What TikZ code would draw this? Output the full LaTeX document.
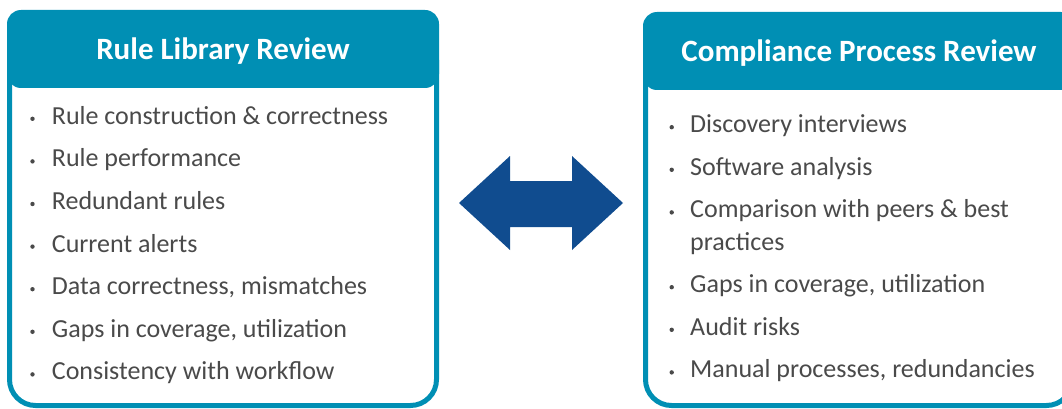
\documentclass[tikz,border=0pt]{standalone}
\usepackage{fontspec}
\setmainfont{Carlito}
\definecolor{hdteal}{RGB}{0,143,180}
\definecolor{txtgray}{RGB}{74,74,74}
\definecolor{arrowblue}{RGB}{16,76,143}

\begin{document}
\begin{tikzpicture}[x=1pt, y=-1pt,
		frame/.style={draw=hdteal, line width=5pt, fill=white, rounded corners=26pt},
		head/.style={fill=hdteal, rounded corners=14pt, minimum width=432pt, minimum height=78pt, text height=22pt, text depth=0pt, text=white, font=\bfseries\fontsize{31}{37}\selectfont},
		item/.style={anchor=base west, inner sep=0pt, align=left, text=txtgray, font=\fontsize{26}{32.7}\selectfont}]
			\path[use as bounding box, clip] (0,0) rectangle (1062,409);
			\draw[frame] (9.5,60) -- (9.5,405.5) -- (436.5,405.5) -- (436.5,60);
			\node (libhead) at (223,49) [head] {Rule Library Review};
			\node (l1) at (51.7,124.3) [item] {Rule construction \& correctness};
			\node (l2) at (51.7,166.9) [item] {Rule performance};
			\node (l3) at (51.7,209.5) [item] {Redundant rules};
			\node (l4) at (51.7,252.1) [item] {Current alerts};
			\node (l5) at (51.7,294.7) [item] {Data correctness, mismatches};
			\node (l6) at (51.7,337.3) [item] {Gaps in coverage, utilization};
			\node (l7) at (51.7,379.9) [item] {Consistency with workflow};
			\foreach \y in {124.3,166.9,209.5,252.1,294.7,337.3,379.9}
				\fill[txtgray] (32.5,\y-5.5) circle (2.2);
			\draw[frame] (645.5,60) -- (645.5,405.5) -- (1072.5,405.5) -- (1072.5,60);
			\node (prochead) at (859,51) [head] {Compliance Process Review};
			\node (r1) at (690,132.7) [item] {Discovery interviews};
			\node (r2) at (690,175.3) [item] {Software analysis};
			\node (r3) at (690,250.6) [item] {Comparison with peers \& best\\practices};
			\node (r4) at (690,292.7) [item] {Gaps in coverage, utilization};
			\node (r5) at (690,335.3) [item] {Audit risks};
			\node (r6) at (690,377.9) [item] {Manual processes, redundancies};
			\foreach \y in {132.7,175.3,217.9,292.7,335.3,377.9}
				\fill[txtgray] (671.7,\y-5.5) circle (2.2);
			\fill[arrowblue] (459,203) -- (510,156) -- (510,181) -- (572,181) -- (572,156) -- (623,203) -- (572,250) -- (572,227) -- (510,227) -- (510,250) -- cycle;
		\end{tikzpicture}
\end{document}
